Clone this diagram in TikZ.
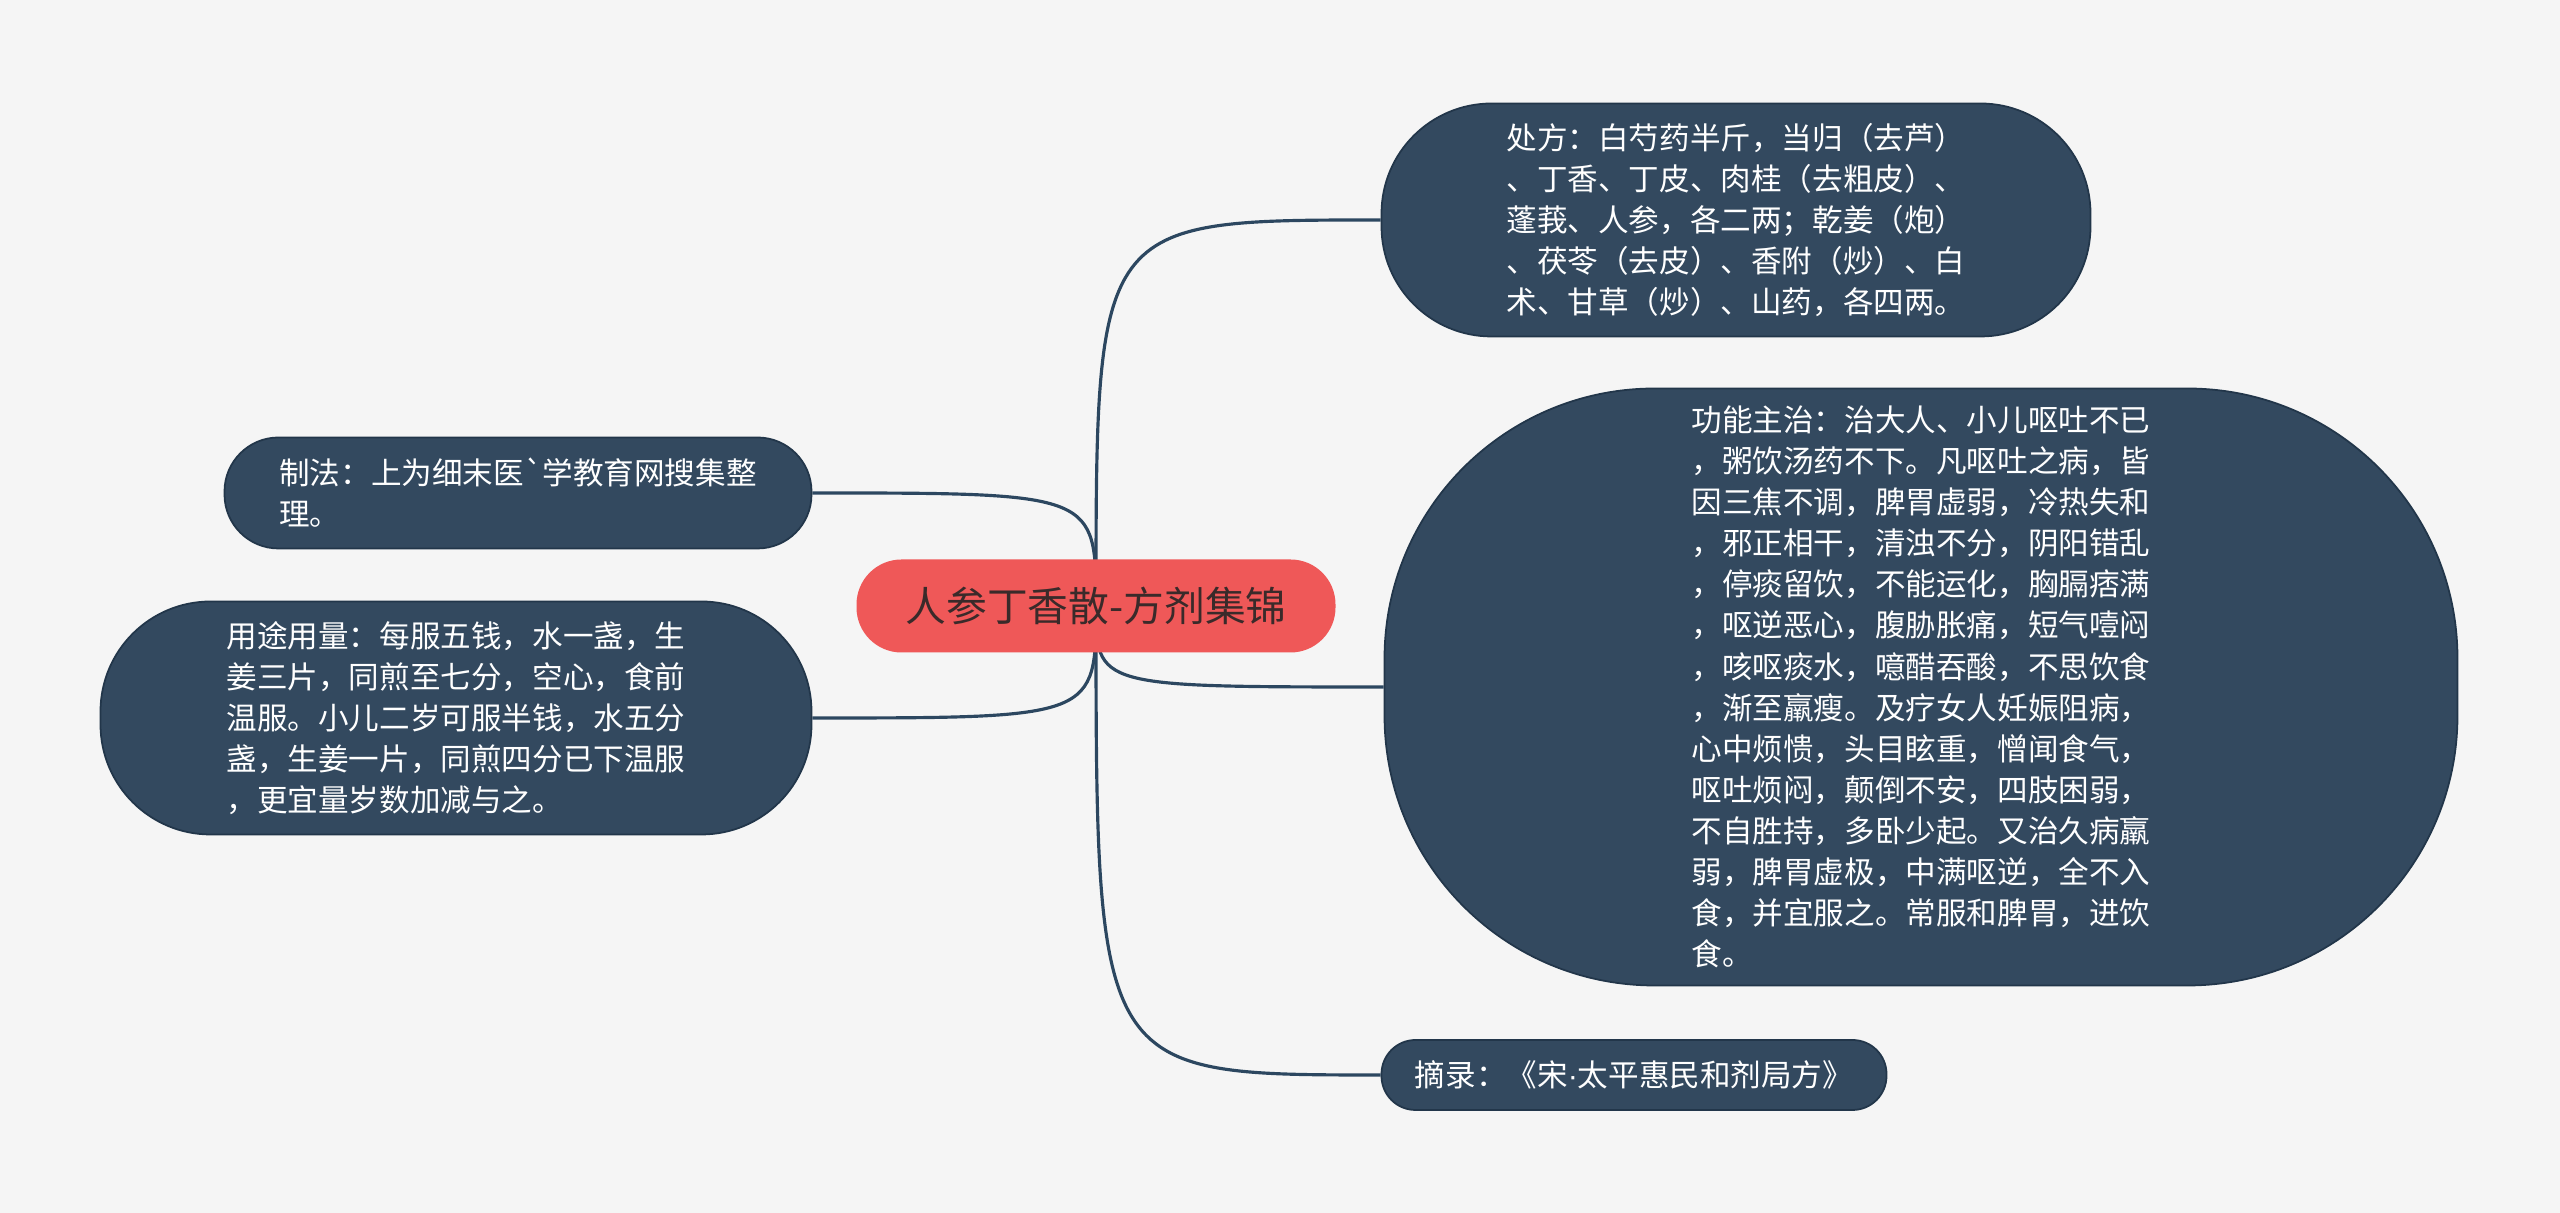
\documentclass[tikz,border=0pt]{standalone}
\usepackage{fontspec}
\usepackage{tikz}
\usepackage{xcolor}
\usetikzlibrary{calc}
\newfontfamily\cjk{Noto Sans CJK SC}
\newfontfamily\latinsans{Liberation Sans}
\definecolor{herbpaper}{HTML}{F5F5F5}
\definecolor{herbnavy}{HTML}{33495F}
\definecolor{herbedge}{HTML}{22364A}
\definecolor{herbline}{HTML}{2C4760}
\definecolor{herbred}{HTML}{EF5858}
\definecolor{herbink}{HTML}{3A2A2A}
\tikzset{
  topic/.style={fill=herbred, text=herbink, inner sep=0pt, rounded corners=0.45cm, minimum width=4.79cm, minimum height=0.93cm, font=\cjk\fontsize{11.6pt}{14pt}\selectfont},
  leaf/.style={draw=herbedge, fill=herbnavy, text=white, align=left, inner sep=0pt, line width=0.5pt, font=\cjk\fontsize{8.7pt}{11.7pt}\selectfont},
  branch/.style={draw=herbline, line width=0.9pt}
}
\begin{document}
\begin{tikzpicture}
  \fill[herbpaper] (0,0) rectangle (25.6,12.13);
  \useasboundingbox (0,0) rectangle (25.6,12.13);
  \coordinate (hub) at (10.96,6.07);
  \node[leaf, rounded corners=1.1cm, minimum width=7.09cm, minimum height=2.33cm] (recipe) at (17.36,9.93)
    {处方：白芍药半斤，当归（去芦）\\、丁香、丁皮、肉桂（去粗皮）、\\蓬莪、人参，各二两；乾姜（炮）\\、茯苓（去皮）、香附（炒）、白\\术、甘草（炒）、山药，各四两。};
  \node[leaf, rounded corners=2.7cm, minimum width=10.73cm, minimum height=5.97cm] (effect) at (19.21,5.26)
    {功能主治：治大人、小儿呕吐不已\\，粥饮汤药不下。凡呕吐之病，皆\\因三焦不调，脾胃虚弱，冷热失和\\，邪正相干，清浊不分，阴阳错乱\\，停痰留饮，不能运化，胸膈痞满\\，呕逆恶心，腹胁胀痛，短气噎闷\\，咳呕痰水，噫醋吞酸，不思饮食\\，渐至羸瘦。及疗女人妊娠阻病，\\心中烦愦，头目眩重，憎闻食气，\\呕吐烦闷，颠倒不安，四肢困弱，\\不自胜持，多卧少起。又治久病羸\\弱，脾胃虚极，中满呕逆，全不入\\食，并宜服之。常服和脾胃，进饮\\食。};
  \node[leaf, rounded corners=0.34cm, minimum width=5.05cm, minimum height=0.70cm] (source) at (16.34,1.38)
    {摘录：《宋{\latinsans ·}太平惠民和剂局方》};
  \node[leaf, rounded corners=0.54cm, minimum width=5.87cm, minimum height=1.11cm] (method) at (5.18,7.20)
    {制法：上为细末医`学教育网搜集整\\理。};
  \node[leaf, rounded corners=1.1cm, minimum width=7.11cm, minimum height=2.33cm] (dosage) at (4.56,4.95)
    {用途用量：每服五钱，水一盏，生\\姜三片，同煎至七分，空心，食前\\温服。小儿二岁可服半钱，水五分\\盏，生姜一片，同煎四分已下温服\\，更宜量岁数加减与之。};
  \draw[branch] (hub) .. controls (hub |- recipe.west) .. (recipe.west);
  \draw[branch] (hub) .. controls (hub |- effect.west) .. (effect.west);
  \draw[branch] (hub) .. controls (hub |- source.west) .. (source.west);
  \draw[branch] (hub) .. controls (hub |- method.east) .. (method.east);
  \draw[branch] (hub) .. controls (hub |- dosage.east) .. (dosage.east);
  \node[topic] (main) at (hub) {人参丁香散-方剂集锦};
\end{tikzpicture}
\end{document}
